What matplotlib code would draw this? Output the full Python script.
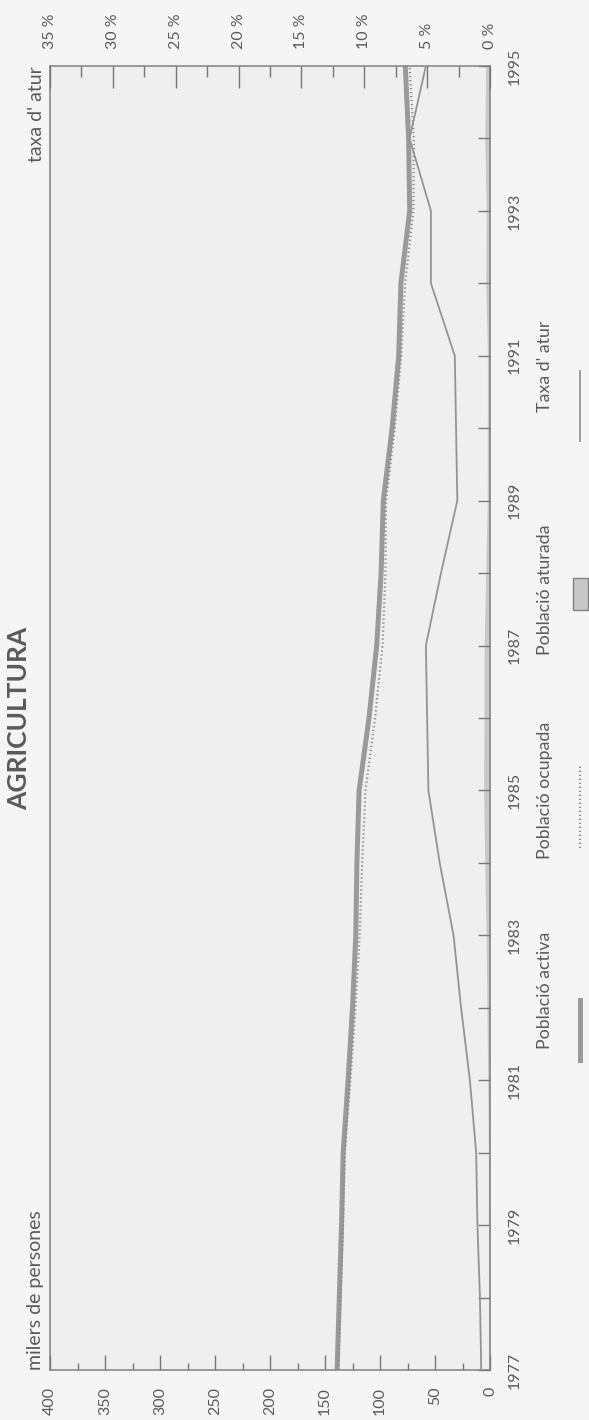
import numpy as np
import matplotlib
matplotlib.use('Agg')
import matplotlib.pyplot as plt
from matplotlib.lines import Line2D
from matplotlib.patches import Rectangle
from matplotlib.ticker import MultipleLocator, FixedLocator

# dades (milers de persones i %)
anys = [1977, 1978, 1979, 1980, 1981, 1982, 1983, 1984, 1985, 1986,
        1987, 1988, 1989, 1990, 1991, 1992, 1993, 1994, 1995]
activa = [139, 137, 135, 133.5, 129, 125, 122, 121, 119, 110,
          103, 99, 97, 89, 83, 81, 73, 74, 77]
ocupada = [138, 135.9, 133.6, 132, 127, 122.2, 118.5, 116.2, 113.2, 104.5,
           97.7, 95.1, 94.5, 86.6, 80.7, 77.2, 69.6, 69.3, 73.1]
aturada = [1.0, 1.1, 1.4, 1.5, 2.0, 2.8, 3.5, 4.8, 5.8, 5.5,
           5.3, 3.9, 2.5, 2.4, 2.3, 3.8, 3.4, 4.7, 3.9]
taxa = [0.7, 0.8, 1.0, 1.1, 1.6, 2.3, 2.9, 4.0, 4.9, 5.0,
        5.1, 3.9, 2.6, 2.7, 2.8, 4.7, 4.7, 6.4, 5.1]

anys_etiqueta = [1977, 1979, 1981, 1983, 1985, 1987, 1989, 1991, 1993, 1995]
milers_ticks = [0, 50, 100, 150, 200, 250, 300, 350, 400]
taxa_ticks = [0, 5, 10, 15, 20, 25, 30, 35]

gris = '#9a9a9a'
text_col = '#5a5a5a'
plt.rcParams['font.family'] = ['Lato', 'DejaVu Sans']

W, H = 589, 1420
fig = plt.figure(figsize=(W / 100, H / 100), dpi=100)
fig.patch.set_facecolor('#f5f5f5')

# eix principal (girat 90 graus: anys en vertical)
ax = fig.add_axes([50 / W, 50 / H, 440 / W, 1304 / H])
ax.set_facecolor('#efefef')
ax.fill_betweenx(anys, 0, aturada, color='#c8c8c8', lw=0)
ax.plot(activa, anys, color=gris, lw=3.6, solid_capstyle='butt')
ax.plot(ocupada, anys, color='#8c8c8c', lw=1.6, ls=(0, (0.6, 1.2)))
ax.set_xlim(400, 0)
ax.set_ylim(1977, 1995)

ax.xaxis.set_major_locator(FixedLocator(milers_ticks))
ax.xaxis.set_minor_locator(MultipleLocator(25))
ax.set_xticklabels([str(v) for v in milers_ticks], rotation=90)
ax.yaxis.tick_right()
ax.set_yticks(anys_etiqueta, labels=[str(a) for a in anys_etiqueta])
ax.yaxis.set_minor_locator(MultipleLocator(1))
for lab in ax.get_yticklabels():
    lab.set_rotation(90)
    lab.set_va('center')
ax.tick_params(axis='x', which='major', direction='in', length=11, width=1,
               color='#777777', labelsize=11.5, labelcolor=text_col, pad=12)
ax.tick_params(axis='x', which='minor', direction='in', length=5, width=1, color='#777777')
ax.tick_params(axis='y', which='both', direction='in', length=9, width=1,
               color='#777777', labelsize=11.5, labelcolor=text_col, pad=13,
               right=True, left=False)
for s in ax.spines.values():
    s.set_color('#808080')
    s.set_linewidth(1.1)

# eix de la taxa d'atur
ax2 = ax.twiny()
ax2.plot(taxa, anys, color='#949494', lw=1.3)
ax2.set_xlim(35, 0)
ax2.xaxis.set_major_locator(FixedLocator(taxa_ticks))
ax2.xaxis.set_minor_locator(MultipleLocator(2.5))
ax2.set_xticklabels(['%d %%' % t for t in taxa_ticks], rotation=90)
ax2.tick_params(axis='x', which='major', direction='in', length=16, width=1,
                color='#777777', labelsize=11.5, labelcolor=text_col, pad=12)
ax2.tick_params(axis='x', which='minor', direction='in', length=8, width=1, color='#777777')
for s in ax2.spines.values():
    s.set_visible(False)

# titols
fig.text(19 / W, 1 - 718 / H, 'AGRICULTURA', rotation=90, ha='center', va='center',
         fontsize=19, fontweight='bold', color=text_col)
fig.text(36 / W, 1 - 1370 / H, 'milers de persones', rotation=90, ha='center',
         va='bottom', fontsize=14, color=text_col)
fig.text(36 / W, 1 - 66 / H, "taxa d' atur", rotation=90, ha='center',
         va='top', fontsize=14, color=text_col)

# llegenda
fs_leg = 12.8
fig.text(545 / W, 1 - 990 / H, 'Població activa', rotation=90, ha='center',
         va='center', fontsize=fs_leg, color=text_col)
fig.add_artist(Line2D([580 / W, 580 / W], [1 - 1060 / H, 1 - 1000 / H],
                      transform=fig.transFigure, color=gris, lw=3.6))
fig.text(545 / W, 1 - 790 / H, 'Població ocupada', rotation=90, ha='center',
         va='center', fontsize=fs_leg, color=text_col)
fig.add_artist(Line2D([580 / W, 580 / W], [1 - 848 / H, 1 - 766 / H],
                      transform=fig.transFigure, color='#8c8c8c', lw=1.6,
                      ls=(0, (0.6, 1.2))))
fig.text(545 / W, 1 - 590 / H, 'Població aturada', rotation=90, ha='center',
         va='center', fontsize=fs_leg, color=text_col)
fig.add_artist(Rectangle((573 / W, 1 - 610 / H), 15 / W, 32 / H,
                         transform=fig.transFigure, facecolor='#c8c8c8',
                         edgecolor='#808080', lw=1))
fig.text(545 / W, 1 - 366 / H, "Taxa d' atur", rotation=90, ha='center',
         va='center', fontsize=fs_leg, color=text_col)
fig.add_artist(Line2D([580 / W, 580 / W], [1 - 441 / H, 1 - 371 / H],
                      transform=fig.transFigure, color='#949494', lw=1.3))

fig.savefig('out.png', dpi=100, facecolor=fig.get_facecolor())
